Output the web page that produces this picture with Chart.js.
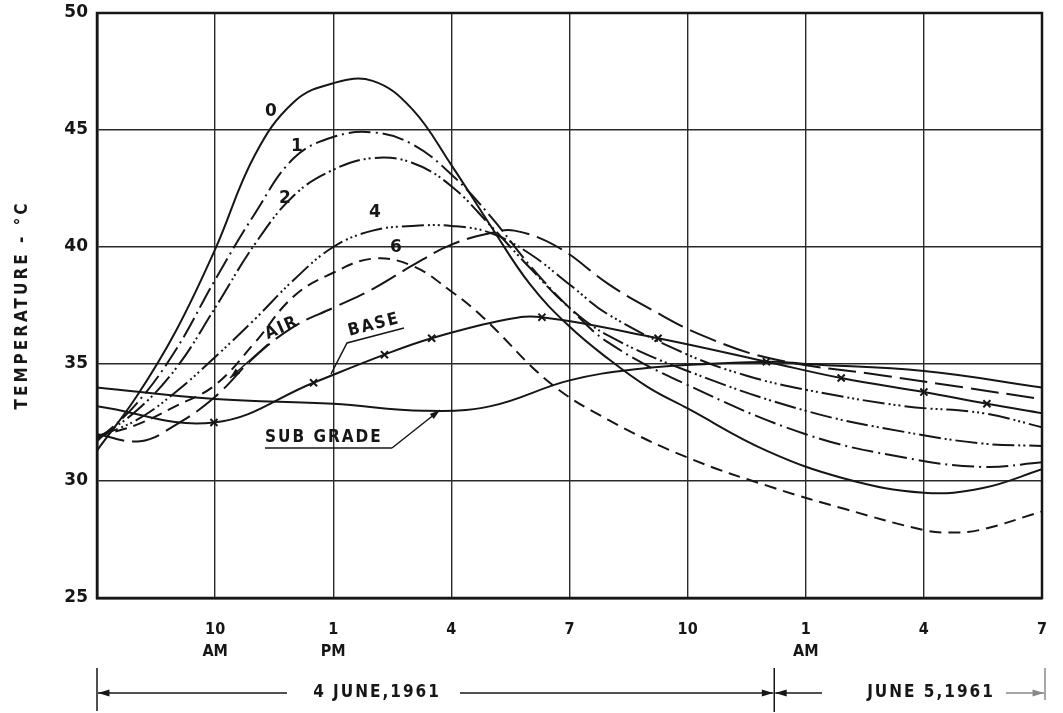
<!DOCTYPE html>
<html>
<head>
<meta charset="utf-8">
<script src="https://cdn.jsdelivr.net/npm/chart.js@4.4.0/dist/chart.umd.min.js"></script>
<style>
  html, body { margin: 0; padding: 0; background: #fff; }
  #wrap { width: 1063px; height: 713px; }
</style>
</head>
<body>
<div id="wrap"><canvas id="chart" width="1063" height="713"></canvas></div>
<script>
// hours after 7 AM on 4 June 1961 (0 .. 24)
const tickHours = [0, 3, 6, 9, 12, 15, 18, 21, 24];
const tickLabels = ['', ['10', 'AM'], ['1', 'PM'], '4', '7', '10', ['1', 'AM'], '4', '7'];

// depth 0 (surface)
const hours0 = [0, 1, 2, 3, 4, 5, 6, 7, 8, 9, 10, 11, 12, 13, 14, 15, 17, 19, 21, 22.5, 24];
const temp0 = [31.3, 33.6, 36.4, 39.9, 43.9, 46.2, 47.0, 47.1, 45.9, 43.5, 40.9, 38.4, 36.6, 35.2, 34.0, 33.1, 31.3, 30.1, 29.5, 29.7, 30.5];

// depth 1
const hours1 = [0, 1, 2, 3, 4, 5, 6, 7, 8, 9, 10, 11, 12, 13, 15, 18, 20.5, 22.5, 24];
const temp1 = [31.7, 33.3, 35.6, 38.6, 41.4, 43.8, 44.7, 44.9, 44.4, 43.1, 41.3, 39.2, 37.4, 35.9, 34.1, 32.0, 31.0, 30.6, 30.8];

// depth 2
const hours2 = [0, 1, 2, 3, 4, 5, 6, 7, 8, 9, 10, 11, 12, 13, 15, 18, 20.5, 22.5, 24];
const temp2 = [31.8, 33.0, 34.8, 37.4, 40.1, 42.2, 43.3, 43.8, 43.6, 42.6, 40.9, 39.1, 37.4, 36.2, 34.7, 33.0, 32.1, 31.6, 31.5];

// depth 4
const hours4 = [0, 1, 2, 3, 4, 5, 6, 7, 8, 9, 10, 11, 12, 13, 15, 16.5, 18, 20.5, 22.5, 24];
const temp4 = [31.9, 32.6, 33.8, 35.3, 36.9, 38.6, 40.0, 40.7, 40.9, 40.9, 40.6, 39.7, 38.4, 37.1, 35.4, 34.5, 33.9, 33.2, 32.9, 32.3];

// depth 6
const hours6 = [0, 1, 2, 3, 4, 5, 6, 7, 8, 9, 9.8, 11.5, 13, 15, 17.2, 19, 21, 21.6, 22.4, 24];
const temp6 = [31.9, 32.4, 33.2, 34.1, 35.9, 37.9, 38.9, 39.5, 39.2, 38.1, 37.0, 34.2, 32.6, 31.0, 29.7, 28.8, 27.9, 27.8, 27.9, 28.7];

// air
const hoursAir = [0, 1.1, 2, 3, 4, 5, 6, 7, 8, 9, 10, 10.6, 11.7, 13, 14, 15.4, 17.2, 20, 22, 24];
const tempAir = [32.0, 31.7, 32.4, 33.6, 35.3, 36.6, 37.4, 38.2, 39.2, 40.1, 40.6, 40.7, 40.0, 38.4, 37.4, 36.2, 35.2, 34.5, 34.0, 33.5];

// base (x = measured points)
const hoursBase = [0, 2.97, 5.5, 7.3, 8.5, 10.4, 11.3, 14.25, 17.0, 18.9, 21.0, 22.6, 24];
const tempBase = [33.2, 32.5, 34.2, 35.4, 36.1, 36.9, 37.0, 36.1, 35.1, 34.4, 33.8, 33.3, 32.9];
const baseMarked = [false, true, true, true, true, false, true, true, true, true, true, true, false];

// sub grade
const hoursSub = [0, 3, 6, 8.3, 10, 12, 13.8, 15.5, 17.2, 18, 21, 24];
const tempSub = [34.0, 33.5, 33.3, 33.0, 33.2, 34.3, 34.8, 35.0, 35.1, 35.0, 34.7, 34.0];

const ink = '#161616';

function pts(xs, ys) {
  return xs.map((h, i) => ({ x: h, y: ys[i] }));
}

function curve(label, xs, ys, dash) {
  return {
    label: label,
    data: pts(xs, ys),
    borderColor: ink,
    borderWidth: 2,
    borderDash: dash,
    pointRadius: 0,
    fill: false,
    tension: 0.4
  };
}

const datasets = [
  curve('0', hours0, temp0, []),
  curve('1', hours1, temp1, [22, 5, 2, 5]),
  curve('2', hours2, temp2, [22, 4, 2, 3, 2, 4]),
  curve('4', hours4, temp4, [22, 4, 2, 3, 2, 3, 2, 4]),
  curve('6', hours6, temp6, [12, 7]),
  curve('AIR', hoursAir, tempAir, [28, 8]),
  Object.assign(curve('BASE', hoursBase, tempBase, []), {
    pointStyle: 'crossRot',
    pointRadius: baseMarked.map(m => m ? 5 : 0),
    pointBorderColor: ink,
    pointBorderWidth: 2
  }),
  curve('SUB GRADE', hoursSub, tempSub, [])
];

function arrowHead(ctx, x1, y1, x2, y2, size) {
  const a = Math.atan2(y2 - y1, x2 - x1);
  ctx.beginPath();
  ctx.moveTo(x2, y2);
  ctx.lineTo(x2 - size * Math.cos(a - 0.3), y2 - size * Math.sin(a - 0.3));
  ctx.lineTo(x2 - size * Math.cos(a + 0.3), y2 - size * Math.sin(a + 0.3));
  ctx.closePath();
  ctx.fill();
}

function arrowLine(ctx, x1, y1, x2, y2, size) {
  ctx.beginPath();
  ctx.moveTo(x1, y1);
  ctx.lineTo(x2, y2);
  ctx.stroke();
  arrowHead(ctx, x1, y1, x2, y2, size);
}

const notes = {
  id: 'notes',
  afterDraw(chart) {
    const ctx = chart.ctx;
    const a = chart.chartArea;
    const xs = chart.scales.x;
    ctx.save();
    ctx.strokeStyle = ink;
    ctx.fillStyle = ink;

    // heavy frame
    ctx.lineWidth = 2.5;
    ctx.strokeRect(a.left, a.top, a.right - a.left, a.bottom - a.top);

    // curve numbers
    ctx.font = 'bold 17px "DejaVu Sans"';
    ctx.textAlign = 'center';
    ctx.textBaseline = 'middle';
    ctx.fillText('0', 271, 112);
    ctx.fillText('1', 297, 147);
    ctx.fillText('2', 285, 199);
    ctx.fillText('4', 375, 213);
    ctx.fillText('6', 396, 248);

    ctx.font = 'bold 17px "DejaVu Sans Condensed"';
    ctx.letterSpacing = '2px';
    ctx.lineWidth = 1.5;

    // AIR
    ctx.save();
    ctx.translate(282, 328);
    ctx.rotate(-0.42);
    ctx.fillText('AIR', 0, 0);
    ctx.restore();
    arrowLine(ctx, 268, 344, 230, 378, 11);

    // BASE
    ctx.save();
    ctx.translate(374, 325);
    ctx.rotate(-0.25);
    ctx.fillText('BASE', 0, 0);
    ctx.restore();
    ctx.beginPath();
    ctx.moveTo(404, 328);
    ctx.lineTo(347, 343);
    ctx.lineTo(331, 374);
    ctx.stroke();

    // SUB GRADE
    ctx.textAlign = 'left';
    ctx.fillText('SUB GRADE', 265, 438);
    ctx.beginPath();
    ctx.moveTo(265, 448);
    ctx.lineTo(392, 448);
    ctx.stroke();
    arrowLine(ctx, 392, 448, 440, 410, 11);

    // axis title
    ctx.save();
    ctx.translate(23, 305);
    ctx.rotate(-Math.PI / 2);
    ctx.textAlign = 'center';
    ctx.letterSpacing = '3px';
    ctx.font = 'bold 17px "DejaVu Sans Condensed"';
    ctx.fillText('TEMPERATURE - °C', 0, 0);
    ctx.restore();

    // date bands below the axis
    const xStart = xs.getPixelForValue(0);
    const xMid = xs.getPixelForValue(17.2);
    const xEnd = xs.getPixelForValue(24);
    const yb = 693;
    ctx.lineWidth = 1.5;
    ctx.beginPath();
    ctx.moveTo(xStart, 668); ctx.lineTo(xStart, 711);
    ctx.moveTo(xMid, 668); ctx.lineTo(xMid, 712);
    ctx.stroke();
    ctx.strokeStyle = '#888';
    ctx.beginPath();
    ctx.moveTo(xEnd + 3, 668); ctx.lineTo(xEnd + 3, 700);
    ctx.stroke();
    ctx.strokeStyle = ink;

    ctx.textAlign = 'center';
    ctx.letterSpacing = '2px';
    ctx.font = 'bold 17px "DejaVu Sans Condensed"';
    ctx.fillText('4 JUNE,1961', 377, yb);
    arrowLine(ctx, 287, yb, xStart + 1, yb, 12);
    arrowLine(ctx, 460, yb, xMid - 1, yb, 12);
    ctx.fillText('JUNE 5,1961', 931, yb);
    arrowLine(ctx, 822, yb, xMid + 1, yb, 12);
    ctx.strokeStyle = '#888';
    ctx.fillStyle = '#888';
    arrowLine(ctx, 1006, yb, xEnd + 2, yb, 12);
    ctx.restore();
  }
};

new Chart(document.getElementById('chart'), {
  type: 'line',
  data: { datasets: datasets },
  options: {
    responsive: false,
    animation: false,
    layout: { padding: { top: 13, right: 21, left: 0, bottom: 0 } },
    plugins: {
      legend: { display: false },
      tooltip: { enabled: false }
    },
    scales: {
      x: {
        type: 'linear',
        min: 0,
        max: 24,
        afterBuildTicks: s => { s.ticks = tickHours.map(v => ({ value: v })); },
        afterFit: s => {
          s.height = 115;
          s.paddingLeft = 0;
          s.paddingRight = 0;
        },
        ticks: {
          autoSkip: false,
          maxRotation: 0,
          padding: 21,
          color: ink,
          font: { family: 'DejaVu Sans Condensed', size: 16, weight: 'bold', lineHeight: 1.35 },
          callback: v => tickLabels[tickHours.indexOf(v)]
        },
        grid: { color: '#2a2a2a', lineWidth: 1.4, drawTicks: false },
        border: { display: true, width: 2.5, color: ink }
      },
      y: {
        min: 25,
        max: 50,
        afterFit: s => {
          s.width = 97;
          s.paddingTop = 0;
          s.paddingBottom = 0;
        },
        ticks: {
          stepSize: 5,
          padding: 9,
          color: ink,
          font: { family: 'DejaVu Sans', size: 17, weight: 'bold' }
        },
        grid: { color: '#2a2a2a', lineWidth: 1.4, drawTicks: false },
        border: { display: true, width: 2.5, color: ink }
      }
    }
  },
  plugins: [notes]
});
</script>
</body>
</html>
